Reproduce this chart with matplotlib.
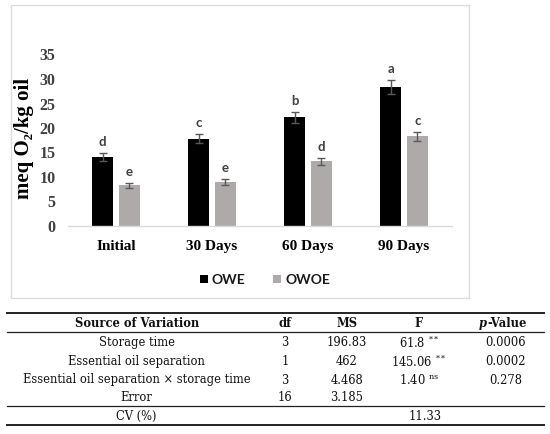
import matplotlib
matplotlib.use("Agg")
import matplotlib.pyplot as plt
import numpy as np
from matplotlib.patches import Patch, Rectangle
from matplotlib.lines import Line2D

#
# Data
#

categories = ["Initial", "30 Days", "60 Days", "90 Days"]
owe_values = [14.1, 17.8, 22.2, 28.4]
owe_errors = [0.9, 0.9, 1.1, 1.4]
owe_letters = ["d", "c", "b", "a"]
owoe_values = [8.3, 9.0, 13.2, 18.3]
owoe_errors = [0.5, 0.6, 0.7, 0.9]
owoe_letters = ["e", "e", "d", "c"]
y_ticks = [0, 5, 10, 15, 20, 25, 30, 35]

table_header = ["Source of Variation", "df", "MS", "F", "p-Value"]
table_sources = ["Storage time", "Essential oil separation",
                 "Essential oil separation \u00d7 storage time", "Error"]
table_df = ["3", "1", "3", "16"]
table_ms = ["196.83", "462", "4.468", "3.185"]
table_f = ["61.8", "145.06", "1.40", ""]
table_f_sig = ["**", "**", "ns", ""]
table_p = ["0.0006", "0.0002", "0.278", ""]
cv_label = "CV (%)"
cv_value = "11.33"

#
# Style
#

plt.rcParams["mathtext.fontset"] = "custom"
plt.rcParams["mathtext.rm"] = "DejaVu Serif"
plt.rcParams["mathtext.it"] = "DejaVu Serif:italic"
plt.rcParams["mathtext.bf"] = "DejaVu Serif:bold"

serif = ["Liberation Serif", "DejaVu Serif"]
table_font = "DejaVu Serif"
table_size = 8.3
text_color = "#111111"

fig = plt.figure(figsize=(5.5, 4.34), dpi=100)

# overlay in pixel coordinates for the frame and the table
overlay = fig.add_axes([0, 0, 1, 1])
overlay.set_xlim(0, 550)
overlay.set_ylim(434, 0)
overlay.axis("off")

overlay.add_patch(Rectangle((11, 5), 458, 293, fill=False, edgecolor="#dcdcdc", linewidth=1.0))

#
# Bar chart
#

ax = fig.add_axes([68 / 550, 1 - 226 / 434, 384 / 550, 171.5 / 434])
x = np.arange(len(categories))
width = 0.22
offset = 0.14
err_style = dict(ecolor="#595959", elinewidth=1, capsize=3, capthick=1)

ax.bar(x - offset, owe_values, width, color="black", yerr=owe_errors, error_kw=err_style, label="OWE")
ax.bar(x + offset, owoe_values, width, color="#aeaaaa", yerr=owoe_errors, error_kw=err_style, label="OWOE")

for xs, vals, errs, letters in [(x - offset, owe_values, owe_errors, owe_letters),
                                (x + offset, owoe_values, owoe_errors, owoe_letters)]:
    for xi, v, e, letter in zip(xs, vals, errs, letters):
        ax.annotate(letter, (xi, v + e), xytext=(0, 5), textcoords="offset points",
                    ha="center", va="baseline", fontsize=9.5, fontweight="bold",
                    family="Lato", color="#404040")

ax.set_xlim(-0.5, len(categories) - 0.5)
ax.set_ylim(0, 35)
ax.set_yticks(y_ticks)
ax.set_yticklabels([str(t) for t in y_ticks], family=serif, fontweight="bold", fontsize=11.5, color="#404040")
ax.set_xticks(x)
ax.set_xticklabels(categories, family=serif, fontweight="bold", fontsize=11, color="black")
ax.tick_params(axis="both", length=0)
ax.tick_params(axis="x", pad=10)
ax.tick_params(axis="y", pad=9)
for side in ["top", "right", "left"]:
    ax.spines[side].set_visible(False)
ax.spines["bottom"].set_color("#d9d9d9")
ax.spines["bottom"].set_linewidth(1)

ax.set_ylabel("meq O\u2082/kg oil", family=serif, fontweight="bold", fontsize=15)
ax.yaxis.set_label_coords(-0.088, 0.51)

legend_handles = [Patch(facecolor="black", label="OWE"), Patch(facecolor="#aeaaaa", label="OWOE")]
fig.legend(handles=legend_handles, loc="center", bbox_to_anchor=(265 / 550, 1 - 280 / 434), ncol=2,
           frameon=False, handlelength=0.55, handleheight=0.55, handletextpad=0.3, columnspacing=2.0,
           prop={"family": "Lato", "size": 10, "weight": "bold"}, labelcolor="#1a1a1a")

#
# ANOVA table
#

col_x = [136.7, 285, 347, 419, 506]
header_y = 323.3
row_y = [342.7, 361.7, 380.0, 397.7]
cv_y = 416.7
line_x0, line_x1 = 6.7, 544

for y_line, lw in [(312.7, 1.4), (332.3, 0.9), (406.0, 0.9), (425.3, 1.4)]:
    overlay.add_line(Line2D([line_x0, line_x1], [y_line, y_line], color="#222222", linewidth=lw))

for i, head in enumerate(table_header[:4]):
    overlay.text(col_x[i], header_y, head, ha="center", va="center", family=table_font,
                 fontsize=table_size, fontweight="bold", color=text_color)
overlay.text(col_x[4] - 19, header_y, "p", ha="right", va="center", family=table_font,
             fontsize=table_size, fontweight="bold", style="italic", color=text_color)
overlay.text(col_x[4] - 19, header_y, "-Value", ha="left", va="center", family=table_font,
             fontsize=table_size, fontweight="bold", color=text_color)


def cell(xc, yc, s):
    overlay.text(xc, yc, s, ha="center", va="center", family=table_font,
                 fontsize=table_size, color=text_color)


for i, y_row in enumerate(row_y):
    cell(col_x[0], y_row, table_sources[i])
    cell(col_x[1], y_row, table_df[i])
    cell(col_x[2], y_row, table_ms[i])
    if table_f[i]:
        sig = table_f_sig[i]
        if sig == "ns":
            sig_tex = r"$^{\mathrm{ns}}$"
        else:
            sig_tex = r"$^{{*}\,{*}}$"
        cell(col_x[3], y_row, table_f[i] + " " + sig_tex)
    if table_p[i]:
        cell(col_x[4], y_row, table_p[i])

cell(col_x[0], cv_y, cv_label)
cell(425, cv_y, cv_value)

fig.savefig("out.png", dpi=100)
